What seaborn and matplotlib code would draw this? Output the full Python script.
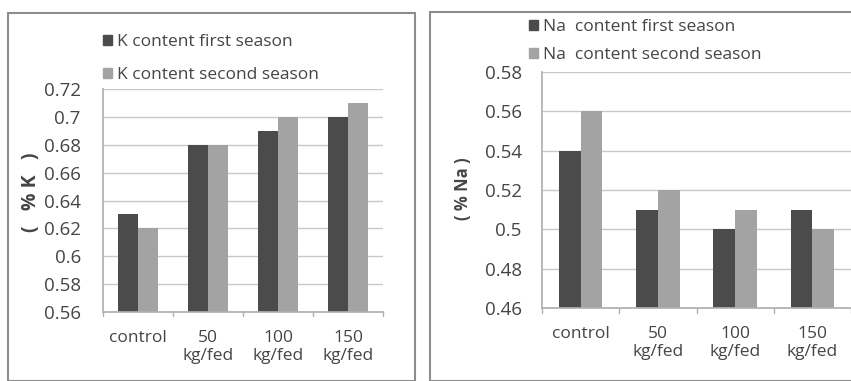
import matplotlib
matplotlib.use("Agg")
import matplotlib.pyplot as plt
import matplotlib.patches as mpatches
import seaborn as sns
import pandas as pd

# Fertiliser treatments on the x axis
categories = ["control", "50\nkg/fed", "100\nkg/fed", "150\nkg/fed"]

# Potassium content (%)
k_first = [0.63, 0.68, 0.69, 0.70]
k_second = [0.62, 0.68, 0.70, 0.71]

# Sodium content (%)
na_first = [0.54, 0.51, 0.50, 0.51]
na_second = [0.56, 0.52, 0.51, 0.50]

k_labels = ["K content first season", "K content second season"]
na_labels = ["Na  content first season", "Na  content second season"]

k_ticks = [0.56, 0.58, 0.60, 0.62, 0.64, 0.66, 0.68, 0.70, 0.72]
k_ticklabels = ["0.56", "0.58", "0.6", "0.62", "0.64", "0.66", "0.68", "0.7", "0.72"]
na_ticks = [0.46, 0.48, 0.50, 0.52, 0.54, 0.56, 0.58]
na_ticklabels = ["0.46", "0.48", "0.5", "0.52", "0.54", "0.56", "0.58"]

DARK = "#4b4b4b"
LIGHT = "#a3a3a3"
TEXT = "#454545"
FONT = "Open Sans"

sns.set_theme(style="white")
plt.rcParams["font.family"] = [FONT, "DejaVu Sans"]

W, H = 851, 381
fig = plt.figure(figsize=(W / 100, H / 100), dpi=100)


def px_axes(x0, y_top, x1, y_bot):
    return fig.add_axes([x0 / W, (H - y_bot) / H, (x1 - x0) / W, (y_bot - y_top) / H])


def draw_panel(ax, first, second, labels, ticks, ticklabels, ypad):
    df = pd.DataFrame({
        "treatment": categories * 2,
        "value": first + second,
        "series": [labels[0]] * len(categories) + [labels[1]] * len(categories),
    })
    sns.barplot(data=df, x="treatment", y="value", hue="series",
                palette=[DARK, LIGHT], width=0.56, gap=0, ax=ax,
                saturation=1, legend=False, edgecolor="none")
    ax.set_ylim(ticks[0], ticks[-1])
    ax.set_yticks(ticks)
    ax.set_yticklabels(ticklabels, fontsize=13.5, color=TEXT)
    ax.set_xlim(-0.5, len(categories) - 0.5)
    ax.tick_params(axis="x", labelsize=12.5, labelcolor=TEXT, length=0, pad=13)
    ax.tick_params(axis="y", length=0, pad=ypad)
    ax.set_xlabel("")
    ax.set_ylabel("")
    ax.yaxis.grid(True, color="#c8c8c8", linewidth=1)
    ax.set_axisbelow(True)
    for s in ["top", "right"]:
        ax.spines[s].set_visible(False)
    ax.spines["left"].set_color("#b0b0b0")
    ax.spines["bottom"].set_color("#b0b0b0")
    # small boundary ticks between categories
    for b in [i + 0.5 for i in range(-1, len(categories))]:
        ax.plot([b, b], [0, -0.02], transform=ax.get_xaxis_transform(),
                color="#b0b0b0", lw=1, clip_on=False)
    handles = [mpatches.Patch(color=DARK, label=labels[0]),
               mpatches.Patch(color=LIGHT, label=labels[1])]
    return handles


# Left panel: potassium
axL = px_axes(103, 89, 383, 312)
hL = draw_panel(axL, k_first, k_second, k_labels, k_ticks, k_ticklabels, 16)
axL.legend(handles=hL, loc="lower left", bbox_to_anchor=(-0.025, 0.997), frameon=False,
           fontsize=12.5, handlelength=0.5, handleheight=0.5, handletextpad=0.3,
           labelspacing=0.95, labelcolor=TEXT, borderaxespad=0)
fig.text(31 / W, 1 - 192 / H, "(   % K   )", rotation=90, ha="center", va="center",
         fontsize=14, fontweight="bold", color=TEXT)

# Right panel: sodium
axR = px_axes(542, 72, 851, 308)
hR = draw_panel(axR, na_first, na_second, na_labels, na_ticks, na_ticklabels, 14.5)
axR.legend(handles=hR, loc="lower left", bbox_to_anchor=(-0.065, 1.008), frameon=False,
           fontsize=12.5, handlelength=0.5, handleheight=0.5, handletextpad=0.3,
           labelspacing=0.7, labelcolor=TEXT, borderaxespad=0)
fig.text(463 / W, 1 - 189 / H, "( % Na )", rotation=90, ha="center", va="center",
         fontsize=12, fontweight="bold", color=TEXT)

# Panel frames
fig.patches.append(mpatches.Rectangle((8 / W, 0), (415 - 8) / W, (H - 13) / H,
                                      transform=fig.transFigure, fill=False,
                                      edgecolor="#8c8c8c", linewidth=1.5))
fig.patches.append(mpatches.Rectangle((430 / W, 0), (W + 5 - 430) / W, (H - 12) / H,
                                      transform=fig.transFigure, fill=False,
                                      edgecolor="#8c8c8c", linewidth=1.5, clip_on=False))

fig.savefig("out.png", dpi=100, facecolor="white")
